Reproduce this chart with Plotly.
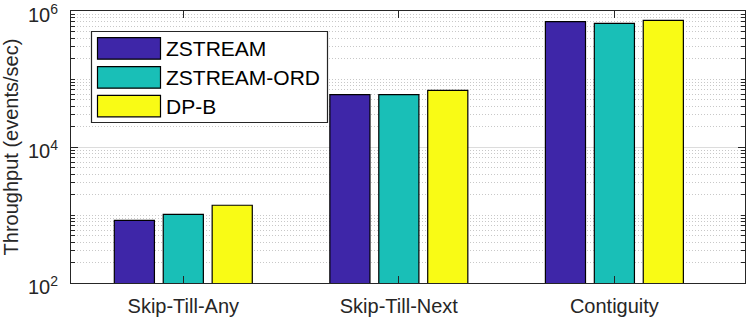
import plotly.graph_objects as go

categories = ["Skip-Till-Any", "Skip-Till-Next", "Contiguity"]
series_names = ["ZSTREAM", "ZSTREAM-ORD", "DP-B"]
zstream = [836, 58800, 696000]
zstream_ord = [1024, 58800, 659000]
dp_b = [1390, 68200, 730000]
y_tick_vals = [1e2, 1e4, 1e6]
y_tick_text = ["10<sup>2</sup>", "10<sup>4</sup>", "10<sup>6</sup>"]

colors = ["#3E26A8", "#19BFB7", "#F9FB15"]
W, H = 749, 318
ML, MR, MT, MB = 71, 4, 11, 35
PW, PH = W - ML - MR, H - MT - MB
FONT = "Liberation Sans, Arial, Helvetica, sans-serif"
AX = "#262626"

def px_x(p):
    return (p - ML) / PW

def px_y(p):
    return (H - MB - p) / PH

xs = [1, 2, 3]
fig = go.Figure()
for name, vals, c in zip(series_names, [zstream, zstream_ord, dp_b], colors):
    fig.add_trace(go.Bar(x=xs, y=vals, name=name, marker=dict(color=c, line=dict(color="black", width=1.2)),
                         showlegend=False))

fig.update_layout(
    width=W, height=H, margin=dict(l=ML, r=MR, t=MT, b=MB, autoexpand=False),
    paper_bgcolor="white", plot_bgcolor="white",
    barmode="group", bargap=0.319, bargroupgap=0.18,
    font=dict(family=FONT, size=20, color=AX),
)
fig.update_xaxes(range=[0.479, 3.606], tickvals=xs, ticktext=categories,
                 ticks="inside", ticklen=7, tickcolor=AX, showline=True, linecolor=AX, linewidth=1,
                 mirror="ticks", showgrid=False, zeroline=False, automargin=False,
                 ticklabelstandoff=5,
                 tickfont=dict(size=20, color=AX))
fig.update_yaxes(type="log", range=[1.99999, 6.00001], tickvals=y_tick_vals, ticktext=y_tick_text,
                 ticks="inside", ticklen=7, tickcolor=AX, showline=True, linecolor=AX, linewidth=1,
                 mirror="ticks", showgrid=True, gridcolor="#dcdcdc", gridwidth=1, zeroline=False,
                 automargin=False, ticklabeloverflow="allow", ticklabelstandoff=8, ticklabelshift=4,
                 tickfont=dict(size=20, color=AX),
                 title=dict(text="Throughput (events/sec)", font=dict(size=20, color=AX), standoff=7),
                 minor=dict(dtick="D1", ticks="inside", ticklen=4, tickcolor=AX, showgrid=True,
                            gridcolor="#c8c8c8", griddash="1px,2px", gridwidth=1))

# legend box drawn manually
fig.add_shape(type="rect", xref="paper", yref="paper", x0=px_x(91.5), x1=px_x(327.5), y0=px_y(122.5), y1=px_y(31.5),
              line=dict(color=AX, width=1.2), fillcolor="white", layer="above")
sw_tops = [37.7, 66.7, 95.3]
for name, c, top in zip(series_names, colors, sw_tops):
    fig.add_shape(type="rect", xref="paper", yref="paper", x0=px_x(97.5), x1=px_x(160.5),
                  y0=px_y(top + 21.5), y1=px_y(top), line=dict(color="black", width=1.2), fillcolor=c, layer="above")
    fig.add_annotation(xref="paper", yref="paper", x=px_x(164), y=px_y(top + 10.8), text=name, showarrow=False,
                       xanchor="left", yanchor="middle", font=dict(family=FONT, size=21, color="black"))

fig.write_html("out.html", config={"displayModeBar": False},
               post_script="document.body.style.margin='0';document.body.style.padding='0';")
